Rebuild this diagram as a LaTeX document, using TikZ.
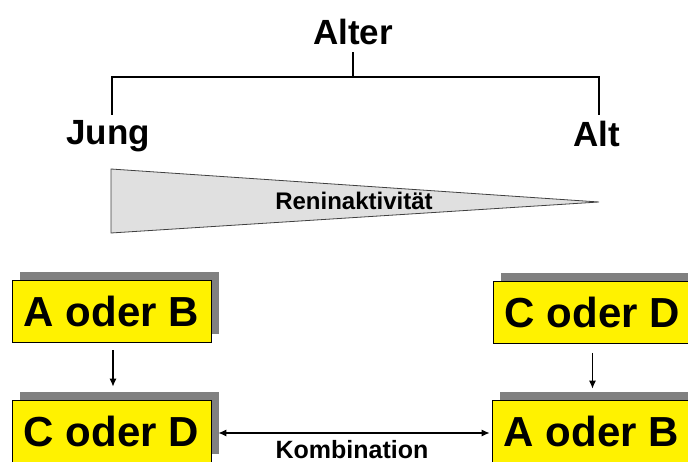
\documentclass[tikz,border=0pt]{standalone}
\usepackage{fontspec}
\setmainfont{Liberation Sans}
\usetikzlibrary{arrows.meta,backgrounds}
\definecolor{shadowgray}{HTML}{808080}
\definecolor{wedgegray}{HTML}{E0E0E0}
\begin{document}
\begin{tikzpicture}[x=1pt,y=-1pt,
  box/.style={draw=black, line width=0.8pt, fill=yellow, minimum width=199pt,
    minimum height=62pt, inner sep=0pt, font=\fontsize{42}{50}\selectfont\bfseries},
  bigtxt/.style={inner sep=0pt, anchor=base, font=\fontsize{35}{42}\selectfont\bfseries},
  midtxt/.style={inner sep=0pt, anchor=base, font=\fontsize{24}{29}\selectfont\bfseries},
  arr/.style={line width=1.1pt, -{Latex[length=8pt,width=7pt]}},
  darr/.style={line width=1.1pt, {Latex[length=8pt,width=7pt]}-{Latex[length=8pt,width=7pt]}},
  bracket/.style={line width=1.6pt}]
\clip (0,0) rectangle (688,462);
\useasboundingbox (0,0) rectangle (688,462);

% top labels
\node[bigtxt] (alter) at (353,45) {Alter};
\node[bigtxt] (jung) at (108,145) {Jung};
\node[bigtxt] (alt) at (597,147) {Alt};

% bracket
\coordinate (bl) at (112,115);
\coordinate (br) at (599,115);
\coordinate (bm) at (353,77);
\coordinate (btop) at (353,52);
\draw[bracket] (bl) |- (bm) -| (br);
\draw[bracket] (bm) -- (btop);

% wedge
\coordinate (w1) at (111,169);
\coordinate (w2) at (599,202);
\coordinate (w3) at (111,233);
\draw[fill=wedgegray, draw=black!75, line width=0.8pt] (w1) -- (w2) -- (w3) -- cycle;
\node[midtxt] (renin) at (354,210) {Reninaktivität};

% boxes
\node[box] (lt) at (111.5,311) {A oder B};
\node[box] (lb) at (111.5,431) {C oder D};
\node[box] (rt) at (592.5,312.5) {C oder D};
\node[box] (rb) at (591.5,431) {A oder B};

\begin{scope}[on background layer]
  \foreach \n in {lt,lb,rt,rb}{
    \fill[shadowgray] ([xshift=8pt,yshift=8pt]\n.south west) rectangle ([xshift=8pt,yshift=8pt]\n.north east);
  }
\end{scope}

% connectors
\draw[arr, shorten <=8pt, shorten >=13pt] ([xshift=1.5pt]lt.south) -- ([xshift=1.5pt]lb.north);
\draw[arr, shorten <=9pt, shorten >=11pt] (rt.south) -- ([xshift=1pt]rb.north);
\draw[darr, shorten <=7pt, shorten >=2pt] ([yshift=-2pt]lb.east) -- ([yshift=-2pt]rb.west);
\node[midtxt, font=\fontsize{25}{30}\selectfont\bfseries] (komb) at (352,458) {Kombination};
\end{tikzpicture}
\end{document}
